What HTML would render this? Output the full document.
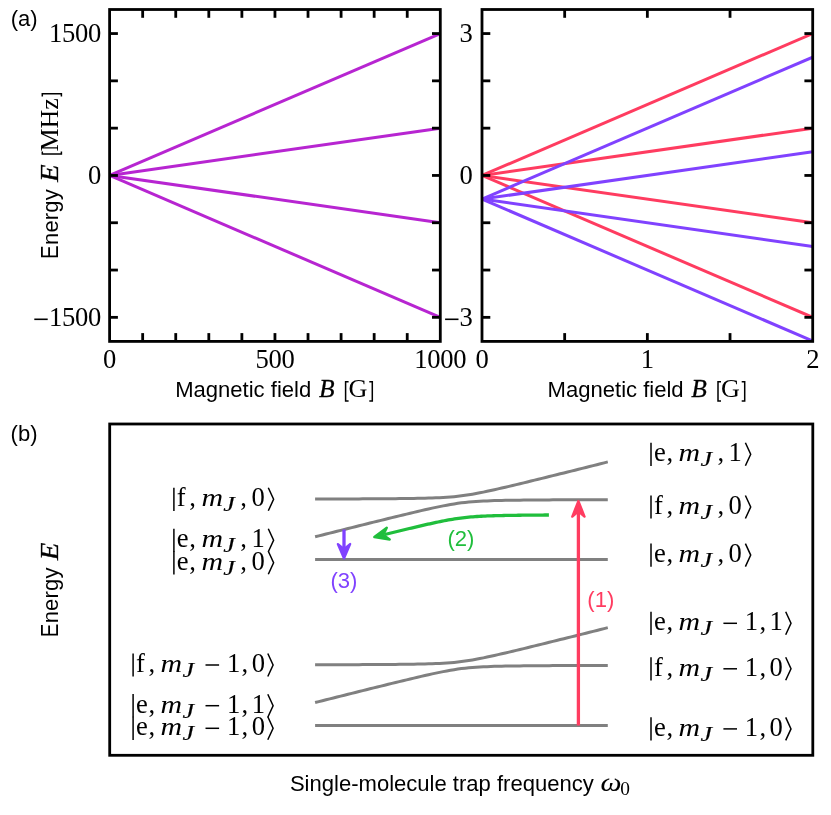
<!DOCTYPE html>
<html><head><meta charset="utf-8"><title>figure</title>
<style>html,body{margin:0;padding:0;background:#fff}svg{display:block;will-change:transform;transform:translateZ(0)}text{font-kerning:normal}</style></head>
<body>
<svg width="831" height="815" viewBox="0 0 831 815">
<rect width="831" height="815" fill="#fff"/>
<clipPath id="ca"><rect x="109.6" y="9.5" width="330.7" height="331.9"/></clipPath>
<g clip-path="url(#ca)" fill="none" stroke-width="3.0" stroke-linecap="butt">
<line x1="109.6" y1="175.45" x2="440.3" y2="33.55" stroke="#b725d1"/>
<line x1="109.6" y1="175.45" x2="440.3" y2="128.15" stroke="#b725d1"/>
<line x1="109.6" y1="175.45" x2="440.3" y2="222.75" stroke="#b725d1"/>
<line x1="109.6" y1="175.45" x2="440.3" y2="317.35" stroke="#b725d1"/>
</g>
<g stroke="#000" stroke-width="2.8" fill="none">
<line x1="142.67" y1="341.4" x2="142.67" y2="333.1"/>
<line x1="142.67" y1="9.5" x2="142.67" y2="17.8"/>
<line x1="175.74" y1="341.4" x2="175.74" y2="333.1"/>
<line x1="175.74" y1="9.5" x2="175.74" y2="17.8"/>
<line x1="208.81" y1="341.4" x2="208.81" y2="333.1"/>
<line x1="208.81" y1="9.5" x2="208.81" y2="17.8"/>
<line x1="241.88" y1="341.4" x2="241.88" y2="333.1"/>
<line x1="241.88" y1="9.5" x2="241.88" y2="17.8"/>
<line x1="274.95" y1="341.4" x2="274.95" y2="333.1"/>
<line x1="274.95" y1="9.5" x2="274.95" y2="17.8"/>
<line x1="308.02" y1="341.4" x2="308.02" y2="333.1"/>
<line x1="308.02" y1="9.5" x2="308.02" y2="17.8"/>
<line x1="341.09" y1="341.4" x2="341.09" y2="333.1"/>
<line x1="341.09" y1="9.5" x2="341.09" y2="17.8"/>
<line x1="374.16" y1="341.4" x2="374.16" y2="333.1"/>
<line x1="374.16" y1="9.5" x2="374.16" y2="17.8"/>
<line x1="407.23" y1="341.4" x2="407.23" y2="333.1"/>
<line x1="407.23" y1="9.5" x2="407.23" y2="17.8"/>
<line x1="109.6" y1="317.35" x2="117.9" y2="317.35"/>
<line x1="440.3" y1="317.35" x2="432" y2="317.35"/>
<line x1="109.6" y1="270.05" x2="117.9" y2="270.05"/>
<line x1="440.3" y1="270.05" x2="432" y2="270.05"/>
<line x1="109.6" y1="222.75" x2="117.9" y2="222.75"/>
<line x1="440.3" y1="222.75" x2="432" y2="222.75"/>
<line x1="109.6" y1="175.45" x2="117.9" y2="175.45"/>
<line x1="440.3" y1="175.45" x2="432" y2="175.45"/>
<line x1="109.6" y1="128.15" x2="117.9" y2="128.15"/>
<line x1="440.3" y1="128.15" x2="432" y2="128.15"/>
<line x1="109.6" y1="80.85" x2="117.9" y2="80.85"/>
<line x1="440.3" y1="80.85" x2="432" y2="80.85"/>
<line x1="109.6" y1="33.55" x2="117.9" y2="33.55"/>
<line x1="440.3" y1="33.55" x2="432" y2="33.55"/>
</g>
<rect x="109.6" y="9.5" width="330.7" height="331.9" fill="none" stroke="#000" stroke-width="2.8" stroke-linejoin="miter"/>
<clipPath id="cb"><rect x="482" y="9.5" width="330.7" height="331.9"/></clipPath>
<g clip-path="url(#cb)" fill="none" stroke-width="3.0" stroke-linecap="butt">
<line x1="482" y1="175.45" x2="812.7" y2="33.55" stroke="#ff3c60"/>
<line x1="482" y1="175.45" x2="812.7" y2="128.15" stroke="#ff3c60"/>
<line x1="482" y1="175.45" x2="812.7" y2="222.75" stroke="#ff3c60"/>
<line x1="482" y1="175.45" x2="812.7" y2="317.35" stroke="#ff3c60"/>
<line x1="482" y1="199.1" x2="812.7" y2="57.2" stroke="#8042ff"/>
<line x1="482" y1="199.1" x2="812.7" y2="151.8" stroke="#8042ff"/>
<line x1="482" y1="199.1" x2="812.7" y2="246.4" stroke="#8042ff"/>
<line x1="482" y1="199.1" x2="812.7" y2="341" stroke="#8042ff"/>
</g>
<g stroke="#000" stroke-width="2.8" fill="none">
<line x1="564.67" y1="341.4" x2="564.67" y2="333.1"/>
<line x1="564.67" y1="9.5" x2="564.67" y2="17.8"/>
<line x1="647.35" y1="341.4" x2="647.35" y2="333.1"/>
<line x1="647.35" y1="9.5" x2="647.35" y2="17.8"/>
<line x1="730.03" y1="341.4" x2="730.03" y2="333.1"/>
<line x1="730.03" y1="9.5" x2="730.03" y2="17.8"/>
<line x1="482" y1="317.35" x2="490.3" y2="317.35"/>
<line x1="812.7" y1="317.35" x2="804.4" y2="317.35"/>
<line x1="482" y1="270.05" x2="490.3" y2="270.05"/>
<line x1="812.7" y1="270.05" x2="804.4" y2="270.05"/>
<line x1="482" y1="222.75" x2="490.3" y2="222.75"/>
<line x1="812.7" y1="222.75" x2="804.4" y2="222.75"/>
<line x1="482" y1="175.45" x2="490.3" y2="175.45"/>
<line x1="812.7" y1="175.45" x2="804.4" y2="175.45"/>
<line x1="482" y1="128.15" x2="490.3" y2="128.15"/>
<line x1="812.7" y1="128.15" x2="804.4" y2="128.15"/>
<line x1="482" y1="80.85" x2="490.3" y2="80.85"/>
<line x1="812.7" y1="80.85" x2="804.4" y2="80.85"/>
<line x1="482" y1="33.55" x2="490.3" y2="33.55"/>
<line x1="812.7" y1="33.55" x2="804.4" y2="33.55"/>
</g>
<rect x="482" y="9.5" width="330.7" height="331.9" fill="none" stroke="#000" stroke-width="2.8" stroke-linejoin="miter"/>
<text x="109.6" y="368" font-family='"Liberation Serif", serif' font-size="26.6" text-anchor="middle" letter-spacing="-0.3">0</text>
<text x="274.95" y="368" font-family='"Liberation Serif", serif' font-size="26.6" text-anchor="middle" letter-spacing="-0.3">500</text>
<text x="440.3" y="368" font-family='"Liberation Serif", serif' font-size="26.6" text-anchor="middle" letter-spacing="-0.3">1000</text>
<text x="482" y="368" font-family='"Liberation Serif", serif' font-size="26.6" text-anchor="middle" letter-spacing="-0.3">0</text>
<text x="647.35" y="368" font-family='"Liberation Serif", serif' font-size="26.6" text-anchor="middle" letter-spacing="-0.3">1</text>
<text x="812.7" y="368" font-family='"Liberation Serif", serif' font-size="26.6" text-anchor="middle" letter-spacing="-0.3">2</text>
<text x="101.1" y="42.4" font-family='"Liberation Serif", serif' font-size="26.6" text-anchor="end" letter-spacing="-0.3">1500</text>
<text x="101.1" y="184.3" font-family='"Liberation Serif", serif' font-size="26.6" text-anchor="end" letter-spacing="-0.3">0</text>
<text x="101.1" y="326.2" font-family='"Liberation Serif", serif' font-size="26.6" text-anchor="end" letter-spacing="-0.3">1500</text>
<line x1="34.3" y1="319.3" x2="47.7" y2="319.3" stroke="#000" stroke-width="1.6"/>
<text x="472.5" y="42.4" font-family='"Liberation Serif", serif' font-size="26.6" text-anchor="end" letter-spacing="-0.3">3</text>
<text x="472.5" y="184.3" font-family='"Liberation Serif", serif' font-size="26.6" text-anchor="end" letter-spacing="-0.3">0</text>
<text x="472.5" y="326.2" font-family='"Liberation Serif", serif' font-size="26.6" text-anchor="end" letter-spacing="-0.3">3</text>
<line x1="445.1" y1="319.3" x2="458.5" y2="319.3" stroke="#000" stroke-width="1.6"/>
<text x="175.2" y="396.8" font-family='"Liberation Sans", sans-serif' font-size="22.05">Magnetic field</text>
<text x="318.9" y="396.8" font-family='"Liberation Serif", serif' font-size="25" font-style="italic" stroke="#000" stroke-width="0.3" textLength="15.6" lengthAdjust="spacingAndGlyphs">B</text>
<path d="M348.6,381.8 H345.6 V401 H348.6" fill="none" stroke="#000" stroke-width="1.5" stroke-linejoin="miter"/>
<text x="348.6" y="396.8" font-family='"Liberation Serif", serif' font-size="25.2" textLength="18.9" lengthAdjust="spacingAndGlyphs">G</text>
<path d="M369.3,381.8 H372.3 V401 H369.3" fill="none" stroke="#000" stroke-width="1.5" stroke-linejoin="miter"/>
<text x="547.6" y="396.8" font-family='"Liberation Sans", sans-serif' font-size="22.05">Magnetic field</text>
<text x="691.3" y="396.8" font-family='"Liberation Serif", serif' font-size="25" font-style="italic" stroke="#000" stroke-width="0.3" textLength="15.6" lengthAdjust="spacingAndGlyphs">B</text>
<path d="M721,381.8 H718 V401 H721" fill="none" stroke="#000" stroke-width="1.5" stroke-linejoin="miter"/>
<text x="721" y="396.8" font-family='"Liberation Serif", serif' font-size="25.2" textLength="18.9" lengthAdjust="spacingAndGlyphs">G</text>
<path d="M741.7,381.8 H744.7 V401 H741.7" fill="none" stroke="#000" stroke-width="1.5" stroke-linejoin="miter"/>
<g transform="translate(58.4 257.4) rotate(-90)">
<text transform="translate(-1.6 0) scale(0.92 1.1)" x="0" y="0" font-family='"Liberation Sans", sans-serif' font-size="22.05">E</text>
<text x="12.4" y="0" font-family='"Liberation Sans", sans-serif' font-size="22.05" letter-spacing="0.15">nergy</text>
<text x="75.4" y="0" font-family='"Liberation Serif", serif' font-size="25" font-style="italic" stroke="#000" stroke-width="0.3" textLength="17.6" lengthAdjust="spacingAndGlyphs">E</text>
<path d="M106,-16.1 H103.4 V3 H106" fill="none" stroke="#000" stroke-width="1.5" stroke-linejoin="miter"/>
<text x="105.9" y="0" font-family='"Liberation Serif", serif' font-size="26" textLength="53.4" lengthAdjust="spacingAndGlyphs">MHz</text>
<path d="M161,-16.1 H163.7 V3 H161" fill="none" stroke="#000" stroke-width="1.5" stroke-linejoin="miter"/>
</g>
<text x="10.7" y="26.2" font-family='"Liberation Sans", sans-serif' font-size="22.05" text-anchor="start" fill="#000" >(a)</text>
<text x="10.6" y="440.9" font-family='"Liberation Sans", sans-serif' font-size="22.05" text-anchor="start" fill="#000" >(b)</text>
<rect x="109.7" y="424" width="703.1" height="331.3" fill="none" stroke="#000" stroke-width="2.8"/>
<g fill="none" stroke="#808080" stroke-width="3.0" stroke-linecap="butt" stroke-linejoin="round">
<polyline points="315.1,499.02 318.76,499.01 322.42,499.01 326.08,499 329.74,498.99 333.39,498.98 337.05,498.97 340.71,498.95 344.37,498.94 348.03,498.93 351.69,498.92 355.35,498.9 359,498.89 362.66,498.87 366.32,498.85 369.98,498.83 373.64,498.81 377.3,498.79 380.96,498.77 384.62,498.74 388.27,498.71 391.93,498.68 395.59,498.65 399.25,498.61 402.91,498.57 406.57,498.52 410.23,498.47 413.89,498.41 417.55,498.34 421.2,498.26 424.86,498.18 428.52,498.08 432.18,497.96 435.84,497.82 439.5,497.66 443.16,497.47 446.81,497.24 450.47,496.97 454.13,496.66 457.79,496.28 461.45,495.85 465.11,495.36 468.77,494.8 472.43,494.19 476.08,493.53 479.74,492.83 483.4,492.1 487.06,491.33 490.72,490.54 494.38,489.73 498.04,488.9 501.7,488.06 505.35,487.21 509.01,486.35 512.67,485.48 516.33,484.61 519.99,483.73 523.65,482.84 527.31,481.95 530.97,481.06 534.62,480.16 538.28,479.26 541.94,478.36 545.6,477.46 549.26,476.55 552.92,475.65 556.58,474.74 560.24,473.83 563.89,472.92 567.55,472 571.21,471.09 574.87,470.18 578.53,469.26 582.19,468.35 585.85,467.43 589.51,466.51 593.16,465.6 596.82,464.68 600.48,463.76 604.14,462.84 607.8,461.92"/>
<polyline points="315.1,536.78 318.76,535.86 322.42,534.94 326.08,534.02 329.74,533.1 333.39,532.19 337.05,531.27 340.71,530.35 344.37,529.44 348.03,528.52 351.69,527.61 355.35,526.7 359,525.78 362.66,524.87 366.32,523.96 369.98,523.05 373.64,522.15 377.3,521.24 380.96,520.34 384.62,519.44 388.27,518.54 391.93,517.64 395.59,516.75 399.25,515.86 402.91,514.97 406.57,514.09 410.23,513.22 413.89,512.35 417.55,511.49 421.2,510.64 424.86,509.8 428.52,508.97 432.18,508.16 435.84,507.37 439.5,506.6 443.16,505.87 446.81,505.17 450.47,504.51 454.13,503.9 457.79,503.34 461.45,502.85 465.11,502.42 468.77,502.04 472.43,501.73 476.08,501.46 479.74,501.23 483.4,501.04 487.06,500.88 490.72,500.74 494.38,500.62 498.04,500.52 501.7,500.44 505.35,500.36 509.01,500.29 512.67,500.23 516.33,500.18 519.99,500.13 523.65,500.09 527.31,500.05 530.97,500.02 534.62,499.99 538.28,499.96 541.94,499.93 545.6,499.91 549.26,499.89 552.92,499.87 556.58,499.85 560.24,499.83 563.89,499.81 567.55,499.8 571.21,499.78 574.87,499.77 578.53,499.76 582.19,499.75 585.85,499.73 589.51,499.72 593.16,499.71 596.82,499.7 600.48,499.69 604.14,499.69 607.8,499.68"/>
<line x1="315.1" y1="559.5" x2="607.8" y2="559.5"/>
<polyline points="315.1,664.77 318.76,664.76 322.42,664.76 326.08,664.75 329.74,664.74 333.39,664.73 337.05,664.72 340.71,664.7 344.37,664.69 348.03,664.68 351.69,664.67 355.35,664.65 359,664.64 362.66,664.62 366.32,664.6 369.98,664.58 373.64,664.56 377.3,664.54 380.96,664.52 384.62,664.49 388.27,664.46 391.93,664.43 395.59,664.4 399.25,664.36 402.91,664.32 406.57,664.27 410.23,664.22 413.89,664.16 417.55,664.09 421.2,664.01 424.86,663.93 428.52,663.83 432.18,663.71 435.84,663.57 439.5,663.41 443.16,663.22 446.81,662.99 450.47,662.72 454.13,662.41 457.79,662.03 461.45,661.6 465.11,661.11 468.77,660.55 472.43,659.94 476.08,659.28 479.74,658.58 483.4,657.85 487.06,657.08 490.72,656.29 494.38,655.48 498.04,654.65 501.7,653.81 505.35,652.96 509.01,652.1 512.67,651.23 516.33,650.36 519.99,649.48 523.65,648.59 527.31,647.7 530.97,646.81 534.62,645.91 538.28,645.01 541.94,644.11 545.6,643.21 549.26,642.3 552.92,641.4 556.58,640.49 560.24,639.58 563.89,638.67 567.55,637.75 571.21,636.84 574.87,635.93 578.53,635.01 582.19,634.1 585.85,633.18 589.51,632.26 593.16,631.35 596.82,630.43 600.48,629.51 604.14,628.59 607.8,627.67"/>
<polyline points="315.1,702.53 318.76,701.61 322.42,700.69 326.08,699.77 329.74,698.85 333.39,697.94 337.05,697.02 340.71,696.1 344.37,695.19 348.03,694.27 351.69,693.36 355.35,692.45 359,691.53 362.66,690.62 366.32,689.71 369.98,688.8 373.64,687.9 377.3,686.99 380.96,686.09 384.62,685.19 388.27,684.29 391.93,683.39 395.59,682.5 399.25,681.61 402.91,680.72 406.57,679.84 410.23,678.97 413.89,678.1 417.55,677.24 421.2,676.39 424.86,675.55 428.52,674.72 432.18,673.91 435.84,673.12 439.5,672.35 443.16,671.62 446.81,670.92 450.47,670.26 454.13,669.65 457.79,669.09 461.45,668.6 465.11,668.17 468.77,667.79 472.43,667.48 476.08,667.21 479.74,666.98 483.4,666.79 487.06,666.63 490.72,666.49 494.38,666.37 498.04,666.27 501.7,666.19 505.35,666.11 509.01,666.04 512.67,665.98 516.33,665.93 519.99,665.88 523.65,665.84 527.31,665.8 530.97,665.77 534.62,665.74 538.28,665.71 541.94,665.68 545.6,665.66 549.26,665.64 552.92,665.62 556.58,665.6 560.24,665.58 563.89,665.56 567.55,665.55 571.21,665.53 574.87,665.52 578.53,665.51 582.19,665.5 585.85,665.48 589.51,665.47 593.16,665.46 596.82,665.45 600.48,665.44 604.14,665.44 607.8,665.43"/>
<line x1="315.1" y1="725.5" x2="607.8" y2="725.5"/>
</g>
<line x1="578.4" y1="725.5" x2="578.4" y2="512" stroke="#ff3c60" stroke-width="3.3"/>
<polygon points="578.4,501.1 584.5,516.6 578.4,511.4 572.3,516.6" fill="#ff3c60" stroke="#ff3c60" stroke-width="2.4" stroke-linejoin="round"/>
<line x1="344.0" y1="529.53" x2="344.0" y2="548" stroke="#8042ff" stroke-width="3.3"/>
<polygon points="344,558.4 337.9,544.1 344,549.2 350.1,544.1" fill="#8042ff" stroke="#8042ff" stroke-width="2.4" stroke-linejoin="round"/>
<polyline points="384.75,534.5 386.8,534 388.85,533.5 390.9,532.99 392.96,532.49 395.01,531.99 397.06,531.49 399.11,530.99 401.16,530.5 403.22,530 405.27,529.51 407.32,529.01 409.37,528.52 411.42,528.03 413.47,527.55 415.53,527.06 417.58,526.58 419.63,526.1 421.68,525.63 423.73,525.16 425.79,524.69 427.84,524.22 429.89,523.77 431.94,523.31 433.99,522.87 436.05,522.43 438.1,521.99 440.15,521.57 442.2,521.16 444.25,520.75 446.31,520.36 448.36,519.98 450.41,519.62 452.46,519.27 454.51,518.94 456.56,518.62 458.62,518.33 460.67,518.05 462.72,517.79 464.77,517.55 466.82,517.33 468.88,517.13 470.93,516.95 472.98,516.78 475.03,516.63 477.08,516.49 479.14,516.36 481.19,516.25 483.24,516.15 485.29,516.05 487.34,515.97 489.39,515.89 491.45,515.82 493.5,515.75 495.55,515.69 497.6,515.63 499.65,515.58 501.71,515.54 503.76,515.49 505.81,515.45 507.86,515.41 509.91,515.38 511.97,515.34 514.02,515.31 516.07,515.28 518.12,515.26 520.17,515.23 522.23,515.21 524.28,515.19 526.33,515.16 528.38,515.14 530.43,515.12 532.48,515.11 534.54,515.09 536.59,515.07 538.64,515.06 540.69,515.04 542.74,515.03 544.8,515.01 546.85,515 548.9,514.99" fill="none" stroke="#20be3c" stroke-width="3.3"/>
<polygon points="374.36,537.07 386.78,527.71 383.29,534.86 389.71,539.55" fill="#20be3c" stroke="#20be3c" stroke-width="2.4" stroke-linejoin="round"/>
<text x="600.8" y="607" font-family='"Liberation Sans", sans-serif' font-size="22.05" text-anchor="middle" fill="#ff3c60" >(1)</text>
<text x="461" y="546.4" font-family='"Liberation Sans", sans-serif' font-size="22.05" text-anchor="middle" fill="#20be3c" >(2)</text>
<text x="344" y="588" font-family='"Liberation Sans", sans-serif' font-size="22.05" text-anchor="middle" fill="#8042ff" >(3)</text>
<g font-family='"Liberation Serif", serif' font-size="26.6" fill="#000"><line x1="173.9" y1="487.7" x2="173.9" y2="510.9" stroke="#000" stroke-width="1.5"/><text x="176.8" y="506.2">f</text><text x="189.3" y="506.2">,</text><text x="201.4" y="506.2" font-style="italic" font-size="24.6" textLength="21.6" lengthAdjust="spacingAndGlyphs">m</text><text x="223.3" y="511.1" font-style="italic" font-size="20.5" stroke="#000" stroke-width="0.16" textLength="11.6" lengthAdjust="spacingAndGlyphs">J</text><text x="240.3" y="506.2">,</text><text x="251.4" y="506.2">0</text><polyline points="268.3,487.8 273.6,499.3 268.3,510.8" fill="none" stroke="#000" stroke-width="1.5" stroke-linejoin="miter"/></g>
<g font-family='"Liberation Serif", serif' font-size="26.6" fill="#000"><line x1="173.9" y1="528.7" x2="173.9" y2="551.9" stroke="#000" stroke-width="1.5"/><text x="176.8" y="547.2">e</text><text x="189.3" y="547.2">,</text><text x="201.4" y="547.2" font-style="italic" font-size="24.6" textLength="21.6" lengthAdjust="spacingAndGlyphs">m</text><text x="223.3" y="552.1" font-style="italic" font-size="20.5" stroke="#000" stroke-width="0.16" textLength="11.6" lengthAdjust="spacingAndGlyphs">J</text><text x="240.3" y="547.2">,</text><text x="251.4" y="547.2">1</text><polyline points="268.3,528.8 273.6,540.3 268.3,551.8" fill="none" stroke="#000" stroke-width="1.5" stroke-linejoin="miter"/></g>
<g font-family='"Liberation Serif", serif' font-size="26.6" fill="#000"><line x1="173.9" y1="551.2" x2="173.9" y2="574.4" stroke="#000" stroke-width="1.5"/><text x="176.8" y="569.7">e</text><text x="189.3" y="569.7">,</text><text x="201.4" y="569.7" font-style="italic" font-size="24.6" textLength="21.6" lengthAdjust="spacingAndGlyphs">m</text><text x="223.3" y="574.6" font-style="italic" font-size="20.5" stroke="#000" stroke-width="0.16" textLength="11.6" lengthAdjust="spacingAndGlyphs">J</text><text x="240.3" y="569.7">,</text><text x="251.4" y="569.7">0</text><polyline points="268.3,551.3 273.6,562.8 268.3,574.3" fill="none" stroke="#000" stroke-width="1.5" stroke-linejoin="miter"/></g>
<g font-family='"Liberation Serif", serif' font-size="26.6" fill="#000"><line x1="133.1" y1="653.4" x2="133.1" y2="676.6" stroke="#000" stroke-width="1.5"/><text x="136" y="671.9">f</text><text x="148.5" y="671.9">,</text><text x="160.6" y="671.9" font-style="italic" font-size="24.6" textLength="21.6" lengthAdjust="spacingAndGlyphs">m</text><text x="182.5" y="676.8" font-style="italic" font-size="20.5" stroke="#000" stroke-width="0.16" textLength="11.6" lengthAdjust="spacingAndGlyphs">J</text><line x1="205.5" y1="665" x2="219.1" y2="665" stroke="#000" stroke-width="1.5"/><text x="226.9" y="671.9">1</text><text x="241.5" y="671.9">,</text><text x="251.7" y="671.9">0</text><polyline points="267.8,653.5 273.1,665 267.8,676.5" fill="none" stroke="#000" stroke-width="1.5" stroke-linejoin="miter"/></g>
<g font-family='"Liberation Serif", serif' font-size="26.6" fill="#000"><line x1="133.1" y1="694.1" x2="133.1" y2="717.3" stroke="#000" stroke-width="1.5"/><text x="136" y="712.6">e</text><text x="148.5" y="712.6">,</text><text x="160.6" y="712.6" font-style="italic" font-size="24.6" textLength="21.6" lengthAdjust="spacingAndGlyphs">m</text><text x="182.5" y="717.5" font-style="italic" font-size="20.5" stroke="#000" stroke-width="0.16" textLength="11.6" lengthAdjust="spacingAndGlyphs">J</text><line x1="205.5" y1="705.7" x2="219.1" y2="705.7" stroke="#000" stroke-width="1.5"/><text x="226.9" y="712.6">1</text><text x="241.5" y="712.6">,</text><text x="251.7" y="712.6">1</text><polyline points="267.8,694.2 273.1,705.7 267.8,717.2" fill="none" stroke="#000" stroke-width="1.5" stroke-linejoin="miter"/></g>
<g font-family='"Liberation Serif", serif' font-size="26.6" fill="#000"><line x1="133.1" y1="716.7" x2="133.1" y2="739.9" stroke="#000" stroke-width="1.5"/><text x="136" y="735.2">e</text><text x="148.5" y="735.2">,</text><text x="160.6" y="735.2" font-style="italic" font-size="24.6" textLength="21.6" lengthAdjust="spacingAndGlyphs">m</text><text x="182.5" y="740.1" font-style="italic" font-size="20.5" stroke="#000" stroke-width="0.16" textLength="11.6" lengthAdjust="spacingAndGlyphs">J</text><line x1="205.5" y1="728.3" x2="219.1" y2="728.3" stroke="#000" stroke-width="1.5"/><text x="226.9" y="735.2">1</text><text x="241.5" y="735.2">,</text><text x="251.7" y="735.2">0</text><polyline points="267.8,716.8 273.1,728.3 267.8,739.8" fill="none" stroke="#000" stroke-width="1.5" stroke-linejoin="miter"/></g>
<g font-family='"Liberation Serif", serif' font-size="26.6" fill="#000"><line x1="651" y1="442.7" x2="651" y2="465.9" stroke="#000" stroke-width="1.5"/><text x="653.9" y="461.2">e</text><text x="666.4" y="461.2">,</text><text x="678.5" y="461.2" font-style="italic" font-size="24.6" textLength="21.6" lengthAdjust="spacingAndGlyphs">m</text><text x="700.4" y="466.1" font-style="italic" font-size="20.5" stroke="#000" stroke-width="0.16" textLength="11.6" lengthAdjust="spacingAndGlyphs">J</text><text x="717.4" y="461.2">,</text><text x="728.5" y="461.2">1</text><polyline points="745.4,442.8 750.7,454.3 745.4,465.8" fill="none" stroke="#000" stroke-width="1.5" stroke-linejoin="miter"/></g>
<g font-family='"Liberation Serif", serif' font-size="26.6" fill="#000"><line x1="651" y1="495.4" x2="651" y2="518.6" stroke="#000" stroke-width="1.5"/><text x="653.9" y="513.9">f</text><text x="666.4" y="513.9">,</text><text x="678.5" y="513.9" font-style="italic" font-size="24.6" textLength="21.6" lengthAdjust="spacingAndGlyphs">m</text><text x="700.4" y="518.8" font-style="italic" font-size="20.5" stroke="#000" stroke-width="0.16" textLength="11.6" lengthAdjust="spacingAndGlyphs">J</text><text x="717.4" y="513.9">,</text><text x="728.5" y="513.9">0</text><polyline points="745.4,495.5 750.7,507 745.4,518.5" fill="none" stroke="#000" stroke-width="1.5" stroke-linejoin="miter"/></g>
<g font-family='"Liberation Serif", serif' font-size="26.6" fill="#000"><line x1="651" y1="543.5" x2="651" y2="566.7" stroke="#000" stroke-width="1.5"/><text x="653.9" y="562">e</text><text x="666.4" y="562">,</text><text x="678.5" y="562" font-style="italic" font-size="24.6" textLength="21.6" lengthAdjust="spacingAndGlyphs">m</text><text x="700.4" y="566.9" font-style="italic" font-size="20.5" stroke="#000" stroke-width="0.16" textLength="11.6" lengthAdjust="spacingAndGlyphs">J</text><text x="717.4" y="562">,</text><text x="728.5" y="562">0</text><polyline points="745.4,543.6 750.7,555.1 745.4,566.6" fill="none" stroke="#000" stroke-width="1.5" stroke-linejoin="miter"/></g>
<g font-family='"Liberation Serif", serif' font-size="26.6" fill="#000"><line x1="651" y1="611.7" x2="651" y2="634.9" stroke="#000" stroke-width="1.5"/><text x="653.9" y="630.2">e</text><text x="666.4" y="630.2">,</text><text x="678.5" y="630.2" font-style="italic" font-size="24.6" textLength="21.6" lengthAdjust="spacingAndGlyphs">m</text><text x="700.4" y="635.1" font-style="italic" font-size="20.5" stroke="#000" stroke-width="0.16" textLength="11.6" lengthAdjust="spacingAndGlyphs">J</text><line x1="723.4" y1="623.3" x2="737" y2="623.3" stroke="#000" stroke-width="1.5"/><text x="744.8" y="630.2">1</text><text x="759.4" y="630.2">,</text><text x="769.6" y="630.2">1</text><polyline points="785.7,611.8 791,623.3 785.7,634.8" fill="none" stroke="#000" stroke-width="1.5" stroke-linejoin="miter"/></g>
<g font-family='"Liberation Serif", serif' font-size="26.6" fill="#000"><line x1="651" y1="657.2" x2="651" y2="680.4" stroke="#000" stroke-width="1.5"/><text x="653.9" y="675.7">f</text><text x="666.4" y="675.7">,</text><text x="678.5" y="675.7" font-style="italic" font-size="24.6" textLength="21.6" lengthAdjust="spacingAndGlyphs">m</text><text x="700.4" y="680.6" font-style="italic" font-size="20.5" stroke="#000" stroke-width="0.16" textLength="11.6" lengthAdjust="spacingAndGlyphs">J</text><line x1="723.4" y1="668.8" x2="737" y2="668.8" stroke="#000" stroke-width="1.5"/><text x="744.8" y="675.7">1</text><text x="759.4" y="675.7">,</text><text x="769.6" y="675.7">0</text><polyline points="785.7,657.3 791,668.8 785.7,680.3" fill="none" stroke="#000" stroke-width="1.5" stroke-linejoin="miter"/></g>
<g font-family='"Liberation Serif", serif' font-size="26.6" fill="#000"><line x1="651" y1="717.3" x2="651" y2="740.5" stroke="#000" stroke-width="1.5"/><text x="653.9" y="735.8">e</text><text x="666.4" y="735.8">,</text><text x="678.5" y="735.8" font-style="italic" font-size="24.6" textLength="21.6" lengthAdjust="spacingAndGlyphs">m</text><text x="700.4" y="740.7" font-style="italic" font-size="20.5" stroke="#000" stroke-width="0.16" textLength="11.6" lengthAdjust="spacingAndGlyphs">J</text><line x1="723.4" y1="728.9" x2="737" y2="728.9" stroke="#000" stroke-width="1.5"/><text x="744.8" y="735.8">1</text><text x="759.4" y="735.8">,</text><text x="769.6" y="735.8">0</text><polyline points="785.7,717.4 791,728.9 785.7,740.4" fill="none" stroke="#000" stroke-width="1.5" stroke-linejoin="miter"/></g>
<g transform="translate(58.4 635.7) rotate(-90)">
<text transform="translate(-1.6 0) scale(0.92 1.1)" x="0" y="0" font-family='"Liberation Sans", sans-serif' font-size="22.05">E</text>
<text x="12.4" y="0" font-family='"Liberation Sans", sans-serif' font-size="22.05" letter-spacing="0.15">nergy</text>
<text x="75.4" y="0" font-family='"Liberation Serif", serif' font-size="25" font-style="italic" stroke="#000" stroke-width="0.3" textLength="17.6" lengthAdjust="spacingAndGlyphs">E</text>
</g>
<text x="289.9" y="790.6" font-family='"Liberation Sans", sans-serif' font-size="22.05">Single-molecule trap frequency</text>
<text x="600.6" y="790.6" font-family='"Liberation Serif", serif' font-size="25" font-style="italic" stroke="#000" stroke-width="0.06" textLength="21.0" lengthAdjust="spacingAndGlyphs">ω</text>
<text x="620.2" y="794.8" font-family='"Liberation Serif", serif' font-size="19.4">0</text>
</svg>
</body></html>
